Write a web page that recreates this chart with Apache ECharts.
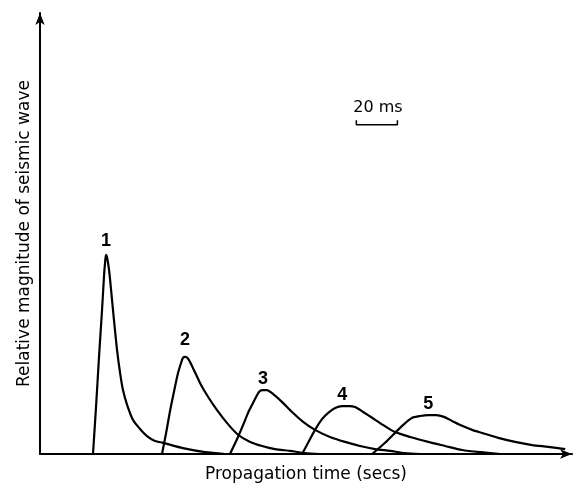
<!DOCTYPE html>
<html>
<head>
<meta charset="utf-8">
<script src="https://cdn.jsdelivr.net/npm/echarts@6/dist/echarts.min.js"></script>
<style>
    html, body { margin: 0; padding: 0; background: #fff; }
    #chart { width: 580px; height: 488px; }
</style>
</head>
<body>
<div id="chart"></div>
<script>
// pulse shapes: [time (ms), relative magnitude]
var pulse1 = [[25.8, 0], [27.3, 10.7], [28.7, 21.5], [30.2, 32.2], [31.2, 40.0], [31.7, 42.9], [32.1, 44.5],
    [32.6, 44.1], [33.6, 41.2], [34.6, 36.7], [36.0, 30.0], [37.5, 23.3], [39.0, 18.1], [40.4, 14.3],
    [42.4, 11.0], [45.3, 7.6], [48.7, 5.6], [52.1, 4.0], [56.0, 2.9], [59.9, 2.5], [69.6, 1.3],
    [80.4, 0.4], [90.1, 0]];
var pulse2 = [[59.4, 0], [61.4, 4.7], [63.3, 9.6], [65.3, 14.1], [67.2, 18.1], [68.7, 20.4], [69.6, 21.5],
    [70.6, 21.7], [72.1, 21.3], [74.0, 19.7], [77.9, 15.9], [81.8, 12.8], [86.2, 9.8], [91.1, 6.9],
    [96.4, 4.3], [102.3, 2.7], [108.1, 1.8], [114.4, 1.1], [121.7, 0.7], [129.1, 0.2], [136.4, 0]];
var pulse3 = [[92.5, 0], [96.4, 3.8], [98.9, 6.5], [101.3, 9.2], [103.7, 11.4], [105.7, 13.2], [107.1, 14.1],
    [108.6, 14.3], [110.5, 14.3], [113.0, 13.6], [117.9, 11.6], [122.7, 9.4], [128.1, 7.2], [133.9, 5.4],
    [141.2, 3.8], [148.5, 2.7], [155.8, 1.8], [163.1, 1.1], [170.4, 0.7], [177.8, 0.2], [185.1, 0]];
var pulse4 = [[127.6, 0], [130.5, 2.5], [133.9, 5.4], [137.3, 7.8], [140.3, 9.2], [143.7, 10.3], [147.1, 10.7],
    [150.5, 10.7], [153.4, 10.5], [157.3, 9.4], [161.7, 8.1], [167.0, 6.5], [172.9, 4.9], [180.2, 3.8],
    [189.0, 2.7], [197.2, 1.8], [205.5, 0.9], [214.3, 0.4], [224.0, 0]];
var pulse5 = [[161.7, 0], [168.0, 2.5], [174.3, 5.4], [177.8, 6.9], [181.2, 8.1], [185.1, 8.5], [189.0, 8.7],
    [192.9, 8.7], [196.7, 8.3], [200.6, 7.4], [205.5, 6.3], [210.4, 5.4], [215.3, 4.7], [223.1, 3.6],
    [231.3, 2.7], [239.6, 2.0], [247.4, 1.6], [255.7, 1.1]];

var pulses = [pulse1, pulse2, pulse3, pulse4, pulse5];
var pulseNames = ['1', '2', '3', '4', '5'];

// 20 ms scale bracket
var scaleBar = [[154, 74.6], [154, 73.6], [174, 73.6], [174, 74.6]];
var scaleText = '20 ms';

var xName = 'Propagation time (secs)';
var yName = 'Relative magnitude of seismic wave';

let chart = echarts.init(document.getElementById('chart'));

var ink = '#000';
var labelGap = [5, 8, 2, 2, 2];

var series = pulses.map(function (p, i) {
    return {
        name: pulseNames[i],
        type: 'line',
        data: p,
        showSymbol: false,
        smooth: 0.25,
        lineStyle: { color: ink, width: 2.2 },
        silent: true
    };
});

// number above each peak
var peaks = pulses.map(function (p, i) {
    var top = p[0];
    p.forEach(function (pt) { if (pt[1] > top[1]) top = pt; });
    return {
        name: pulseNames[i],
        value: top,
        label: { distance: labelGap[i] }
    };
});

series.push({
    type: 'scatter',
    data: peaks,
    symbolSize: 0,
    silent: true,
    itemStyle: { color: ink, opacity: 1 },
    label: {
        show: true,
        position: 'top',
        formatter: '{b}',
        color: ink,
        fontSize: 18,
        fontWeight: 'bold',
        fontFamily: 'Liberation Sans'
    }
});

series.push({
    type: 'line',
    data: scaleBar,
    showSymbol: false,
    lineStyle: { color: ink, width: 1.5 },
    silent: true
});

series.push({
    type: 'scatter',
    data: [{ name: scaleText, value: [164.5, 77.4] }],
    symbolSize: 0,
    silent: true,
    itemStyle: { color: ink, opacity: 1 },
    label: {
        show: true,
        position: 'inside',
        formatter: '{b}',
        color: ink,
        fontSize: 16,
        fontFamily: 'DejaVu Sans'
    }
});

var option = {
    animation: false,
    backgroundColor: '#fff',
    grid: { left: 40, right: 8, top: 13, bottom: 34 },
    xAxis: {
        type: 'value',
        min: 0,
        max: 259,
        name: xName,
        nameLocation: 'middle',
        nameGap: 12,
        nameTextStyle: { color: ink, fontSize: 17, fontFamily: 'DejaVu Sans', verticalAlign: 'top' },
        axisLine: { lineStyle: { color: ink, width: 2 }, symbol: ['none', 'arrow'], symbolSize: [7, 12] },
        axisTick: { show: false },
        axisLabel: { show: false },
        splitLine: { show: false }
    },
    yAxis: {
        type: 'value',
        min: 0,
        max: 98.6,
        name: yName,
        nameLocation: 'middle',
        nameGap: 7,
        nameRotate: 90,
        nameTextStyle: { color: ink, fontSize: 17, fontFamily: 'DejaVu Sans' },
        axisLine: { lineStyle: { color: ink, width: 2 }, symbol: ['none', 'arrow'], symbolSize: [7, 12] },
        axisTick: { show: false },
        axisLabel: { show: false },
        splitLine: { show: false }
    },
    series: series
};

chart.setOption(option);

window.addEventListener('resize', function () {
    chart.resize();
});
</script>
</body>
</html>
